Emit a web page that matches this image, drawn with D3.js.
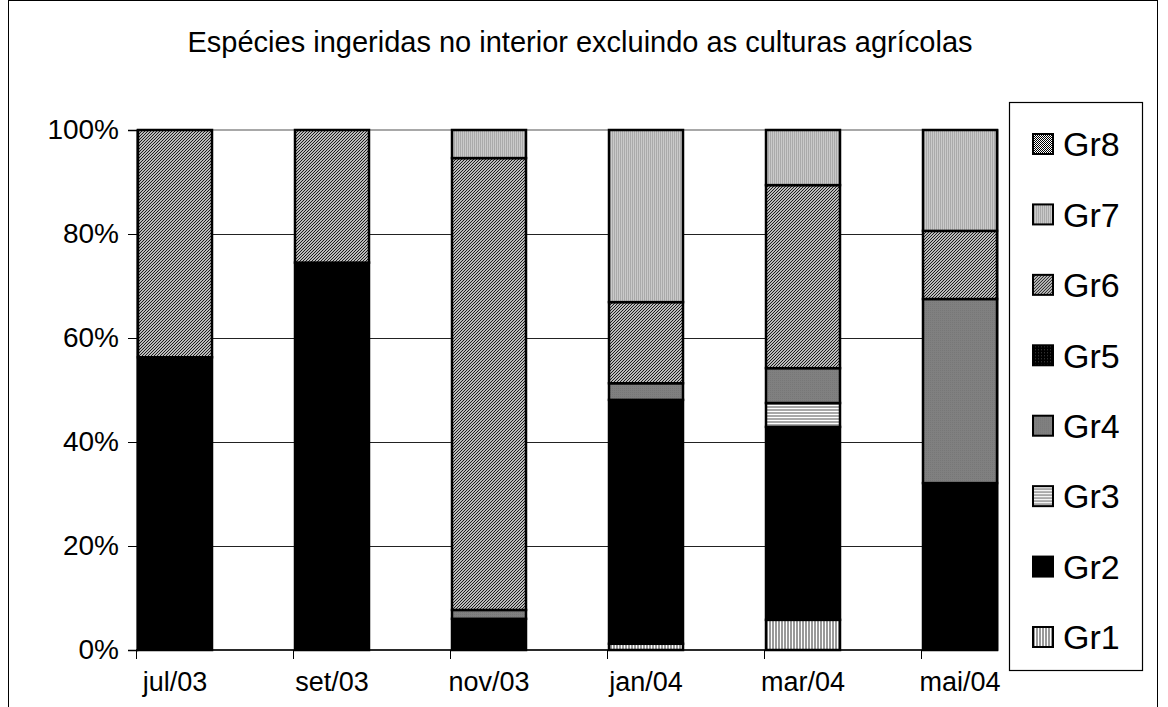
<!DOCTYPE html>
<html>
<head>
<meta charset="utf-8">
<script src="https://cdn.jsdelivr.net/npm/d3@7"></script>
<style>
  html, body { margin: 0; padding: 0; background: #fff; }
  svg { display: block; font-family: "Liberation Sans", Arial, sans-serif; }
</style>
</head>
<body>
<svg id="chart" width="1168" height="707"></svg>
<script>
// Share of each species group per sampling month (percent of total)
const categories = ["jul/03", "set/03", "nov/03", "jan/04", "mar/04", "mai/04"];
const groups = ["Gr1", "Gr2", "Gr3", "Gr4", "Gr5", "Gr6", "Gr7", "Gr8"];
const gr1 = [0, 0, 0, 1.2, 5.8, 0];
const gr2 = [56.3, 74.5, 6.0, 46.9, 37.1, 32.1];
const gr3 = [0, 0, 0, 0, 4.6, 0];
const gr4 = [0, 0, 1.7, 3.2, 6.7, 35.4];
const gr5 = [0, 0, 0, 0, 0, 0];
const gr6 = [43.7, 25.5, 86.9, 15.6, 35.2, 13.1];
const gr7 = [0, 0, 5.4, 33.1, 10.6, 19.4];
const gr8 = [0, 0, 0, 0, 0, 0];
const yTicks = [0, 20, 40, 60, 80, 100];
const title = "Espécies ingeridas no interior excluindo as culturas agrícolas";

const series = [gr1, gr2, gr3, gr4, gr5, gr6, gr7, gr8];
const rows = categories.map((c, i) => {
  const r = { cat: c };
  groups.forEach((g, k) => { r[g] = series[k][i]; });
  return r;
});

const svg = d3.select("#chart");

// Fill patterns for the groups
const defs = svg.append("defs");
function pat(id, w, h, draw) {
  const p = defs.append("pattern").attr("id", id).attr("patternUnits", "userSpaceOnUse")
    .attr("width", w).attr("height", h);
  draw(p);
}
pat("p1", 3, 3, p => {
  p.append("rect").attr("width", 3).attr("height", 3).attr("fill", "#fff");
  p.append("rect").attr("x", 1).attr("width", 2).attr("height", 3).attr("fill", "#9a9a9a");
});
pat("p3", 3, 3, p => {
  p.append("rect").attr("width", 3).attr("height", 3).attr("fill", "#fff");
  p.append("rect").attr("y", 1).attr("width", 3).attr("height", 2).attr("fill", "#a8a8a8");
});
pat("p4", 2, 2, p => {
  p.append("rect").attr("width", 2).attr("height", 2).attr("fill", "#808080");
  p.append("rect").attr("width", 1).attr("height", 1).attr("fill", "#777");
});
pat("p5", 3, 3, p => {
  p.append("rect").attr("width", 3).attr("height", 3).attr("fill", "#000");
  p.append("rect").attr("width", 1).attr("height", 1).attr("fill", "#444");
});
pat("p6", 3, 3, p => {
  p.append("rect").attr("width", 3).attr("height", 3).attr("fill", "#fff");
  p.append("path").attr("d", "M-1,1 L1,-1 M0,3 L3,0 M2,4 L4,2")
    .attr("stroke", "#111").attr("stroke-width", 1.1);
});
pat("p7", 2, 2, p => {
  p.append("rect").attr("width", 2).attr("height", 2).attr("fill", "#cacaca");
  p.append("rect").attr("width", 1).attr("height", 2).attr("fill", "#aaaaaa");
});
pat("p8", 2, 2, p => {
  p.append("rect").attr("width", 2).attr("height", 2).attr("fill", "#fff");
  p.append("rect").attr("width", 1).attr("height", 1).attr("fill", "#000");
  p.append("rect").attr("x", 1).attr("y", 1).attr("width", 1).attr("height", 1).attr("fill", "#000");
});
const fills = {
  Gr1: "url(#p1)", Gr2: "#000", Gr3: "url(#p3)", Gr4: "url(#p4)",
  Gr5: "url(#p5)", Gr6: "url(#p6)", Gr7: "url(#p7)", Gr8: "url(#p8)"
};

// Outer chart frame
svg.append("rect").attr("x", 8.5).attr("y", 0.5).attr("width", 1149).attr("height", 720)
  .attr("fill", "none").attr("stroke", "#000").attr("stroke-width", 1);

// Title
svg.append("text").attr("x", 580).attr("y", 52).attr("text-anchor", "middle")
  .attr("font-size", 29).attr("fill", "#000").text(title);

// Plot area
const plotLeft = 137, plotRight = 998, plotTop = 130, plotBottom = 650;
const step = 157;
const x = d3.scaleBand().domain(categories)
  .range([plotLeft - 1, plotLeft - 1 + step * categories.length]).padding(0);
const y = d3.scaleLinear().domain([0, 100]).range([plotBottom, plotTop]);

const clip = defs.append("clipPath").attr("id", "plotclip");
clip.append("rect").attr("x", plotLeft - 2).attr("y", plotTop - 4)
  .attr("width", plotRight - plotLeft + 4).attr("height", plotBottom - plotTop + 8);

// Plot area border
svg.append("rect").attr("x", plotLeft).attr("y", plotTop)
  .attr("width", plotRight - plotLeft).attr("height", plotBottom - plotTop)
  .attr("fill", "none").attr("stroke", "#8c8c8c").attr("stroke-width", 1.5);

// Horizontal gridlines
svg.append("g").selectAll("line").data(yTicks.filter(t => t > 0 && t < 100)).join("line")
  .attr("x1", plotLeft).attr("x2", plotRight)
  .attr("y1", d => Math.round(y(d)) + 0.5).attr("y2", d => Math.round(y(d)) + 0.5)
  .attr("stroke", "#222").attr("stroke-width", 1.2);

// Stacked bars
const stack = d3.stack().keys(groups);
const stacked = stack(rows);
const barW = 74;
const barG = svg.append("g").attr("clip-path", "url(#plotclip)");
stacked.forEach(layer => {
  barG.append("g").selectAll("rect")
    .data(layer.filter(d => d[1] - d[0] > 0)).join("rect")
    .attr("x", d => x(d.data.cat) + 2)
    .attr("width", barW)
    .attr("y", d => y(d[1]))
    .attr("height", d => y(d[0]) - y(d[1]))
    .attr("fill", fills[layer.key])
    .attr("stroke", "#000").attr("stroke-width", 2.5);
});

// Y axis
const yAxis = d3.axisLeft(y).tickValues(yTicks).tickSize(9).tickPadding(9)
  .tickFormat(d => d + "%");
const ya = svg.append("g").attr("transform", `translate(${plotLeft},0)`).call(yAxis);
ya.select(".domain").attr("stroke", "#000").attr("stroke-width", 1.5);
ya.selectAll(".tick line").attr("stroke", "#000");
ya.selectAll("text").attr("font-size", 28).attr("fill", "#000")
  .attr("font-family", "Liberation Sans, Arial, sans-serif");

// X axis: baseline, boundary ticks and labels centred on the bars
svg.append("line").attr("x1", plotLeft - 1).attr("x2", plotRight)
  .attr("y1", plotBottom).attr("y2", plotBottom).attr("stroke", "#000").attr("stroke-width", 1.5);
svg.append("g").selectAll("line").data(categories).join("line")
  .attr("x1", d => x(d) + 0.5).attr("x2", d => x(d) + 0.5)
  .attr("y1", plotBottom).attr("y2", plotBottom + 9)
  .attr("stroke", "#000").attr("stroke-width", 1);
svg.append("g").selectAll("text").data(categories).join("text")
  .attr("x", d => x(d) + 2 + barW / 2).attr("y", 691)
  .attr("text-anchor", "middle").attr("font-size", 27).attr("fill", "#000")
  .text(d => d);

// Legend
const lg = svg.append("g");
lg.append("rect").attr("x", 1009.5).attr("y", 102.5).attr("width", 133).attr("height", 568)
  .attr("fill", "#fff").attr("stroke", "#000").attr("stroke-width", 1.2);
const legendOrder = groups.slice().reverse();
const ly = d3.scalePoint().domain(legendOrder).range([144, 637]);
const items = lg.selectAll("g.item").data(legendOrder).join("g").attr("class", "item")
  .attr("transform", d => `translate(0,${ly(d)})`);
items.append("rect").attr("x", 1033).attr("y", -10).attr("width", 20).attr("height", 20)
  .attr("fill", d => fills[d]).attr("stroke", "#000").attr("stroke-width", 2);
items.append("text").attr("x", 1063).attr("y", 0).attr("dy", "0.36em")
  .attr("font-size", 34).attr("fill", "#000").text(d => d);
</script>
</body>
</html>
